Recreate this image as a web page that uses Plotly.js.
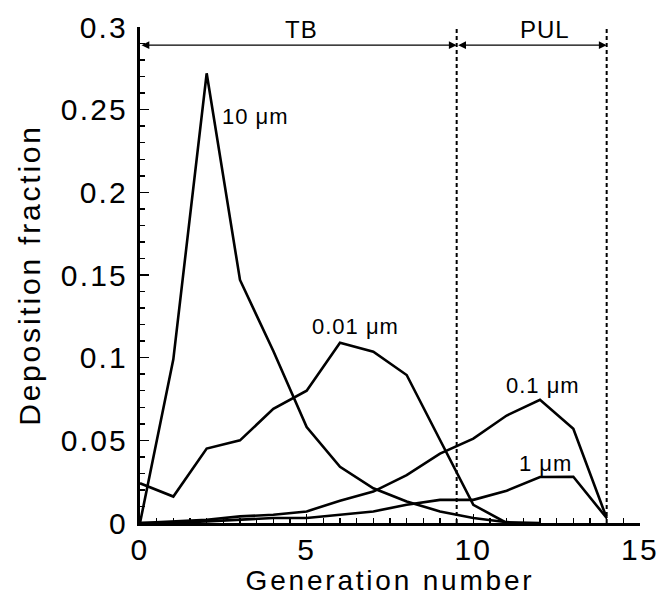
<!DOCTYPE html>
<html><head><meta charset="utf-8">
<script src="https://cdn.plot.ly/plotly-3.0.1.min.js"></script>
<style>
html,body{margin:0;padding:0;background:#fff}
#c{width:660px;height:596px}
.xtick text,.ytick text{letter-spacing:2.2px}
text.xtitle,text.ytitle{letter-spacing:2.8px}
.annotation-text{letter-spacing:1px}
</style>
</head><body><div id="c"></div>
<script>
const generation = [0,1,2,3,4,5,6,7,8,9,10,11,12,13,14];
const dep10um   = [0,0.099,0.272,0.147,0.104,0.058,0.034,0.021,0.013,0.007,0.003,0.0005,0];
const dep001um  = [0.024,0.016,0.045,0.050,0.069,0.080,0.109,0.1036,0.0895,0.050,0.011,0];
const dep01um   = [0,0.001,0.002,0.004,0.005,0.007,0.0135,0.019,0.029,0.042,0.051,0.065,0.0745,0.057,0.003];
const dep1um    = [0,0,0.001,0.002,0.003,0.003,0.005,0.007,0.011,0.014,0.014,0.0195,0.0278,0.028,0.003];
const regionBounds = [0, 9.5, 14];
const regionNames = ['TB','PUL'];
const curveLabels = ['10 μm','0.01 μm','0.1 μm','1 μm'];
const curveLabelPos = [[3.45,0.246],[6.45,0.119],[12.1,0.083],[12.15,0.036]];
const arrowLevel = 0.289;

const FONT = 'Arial, "Liberation Sans", sans-serif';
const lineStyle = {color:'#000', width:2.6};
const traces = [dep10um, dep001um, dep01um, dep1um].map(v => ({
  x: generation.slice(0, v.length), y: v, mode:'lines', line: lineStyle, hoverinfo:'skip', showlegend:false
}));

const shapes = regionBounds.slice(1).map(b => ({
  type:'line', xref:'x', yref:'paper', x0:b, x1:b, y0:0, y1:1,
  line:{color:'#000', width:2, dash:'4px,3px'}
}));

const arrowAnns = regionNames.map((n,i) => ({
  x:regionBounds[i+1], y:arrowLevel, ax:regionBounds[i], ay:arrowLevel,
  xref:'x', yref:'y', axref:'x', ayref:'y', text:'', showarrow:true,
  arrowside:'end+start', arrowhead:2, arrowsize:1.3, arrowwidth:1.2, arrowcolor:'#000', standoff:0, startstandoff:0
}));

const annotations = arrowAnns.concat(regionNames.map((n,i) => ({
  x:(regionBounds[i]+regionBounds[i+1])/2 + (i===1?0.4:0.1), y:arrowLevel, xref:'x', yref:'y',
  text:n, showarrow:false, yanchor:'bottom', yshift:0,
  font:{family:FONT, size:24, color:'#000'}
}))).concat(curveLabels.map((t,i) => ({
  x:curveLabelPos[i][0], y:curveLabelPos[i][1], xref:'x', yref:'y', text:t, showarrow:false,
  font:{family:FONT, size:22, color:'#000'}
})));

const layout = {
  width:660, height:596,
  margin:{l:140, r:20, t:27, b:73},
  paper_bgcolor:'#fff', plot_bgcolor:'#fff',
  font:{family:FONT, color:'#000'},
  xaxis:{
    range:[0,15], dtick:5, tick0:0, showgrid:false, zeroline:false,
    showline:true, linecolor:'#000', linewidth:3,
    ticks:'inside', ticklen:9, tickwidth:1.5, tickcolor:'#000',
    minor:{dtick:0.5, ticks:'inside', ticklen:5, tickwidth:1.5, tickcolor:'#000'},
    tickfont:{size:30, family:FONT}, ticklabelstandoff:-2,
    title:{text:'Generation number', font:{size:28, family:FONT}, standoff:0}
  },
  yaxis:{
    range:[0,0.3], dtick:0.05, tick0:0, showgrid:false, zeroline:false,
    showline:true, linecolor:'#000', linewidth:3,
    ticks:'inside', ticklen:9, tickwidth:1.5, tickcolor:'#000',
    minor:{dtick:0.01, ticks:'inside', ticklen:5, tickwidth:1.5, tickcolor:'#000'},
    tickfont:{size:30, family:FONT}, ticklabelstandoff:3,
    title:{text:'Deposition fraction', font:{size:30, family:FONT}, standoff:12}
  },
  shapes: shapes,
  annotations: annotations,
  showlegend:false
};
Plotly.newPlot('c', traces, layout, {staticPlot:true});
</script>
</body></html>
